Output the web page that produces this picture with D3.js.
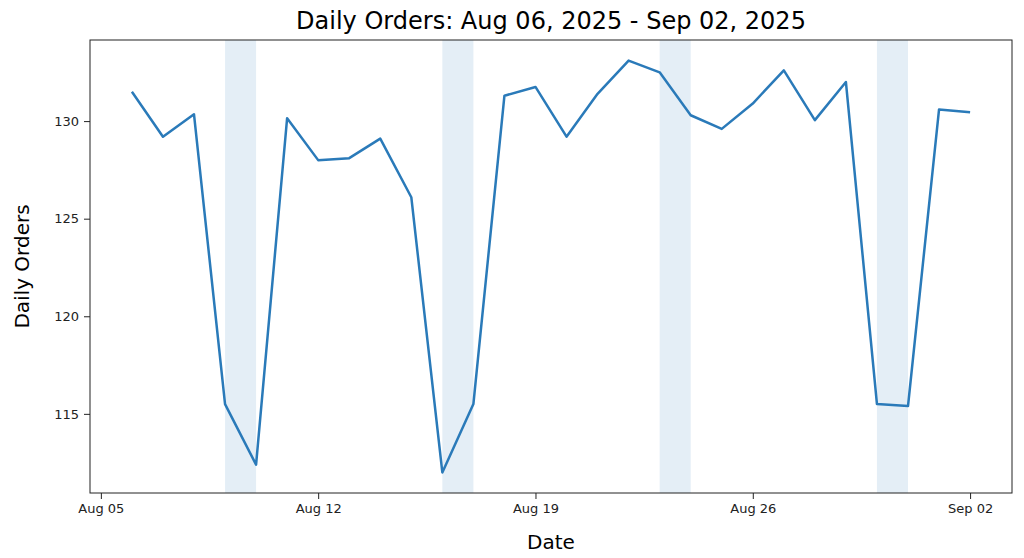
<!DOCTYPE html>
<html><head><meta charset="utf-8">
<script src="https://cdn.jsdelivr.net/npm/d3@7"></script>
<style>body{margin:0;background:#fff;font-family:"DejaVu Sans",sans-serif}</style>
</head><body><svg id="chart" width="1024" height="558"></svg>
<script>
// daily orders, Aug 06 .. Sep 02 2025
var orders = [131.5,129.2,130.35,115.5,112.4,130.15,128.0,128.1,129.1,126.1,112.0,115.5,131.3,131.75,
              129.2,131.4,133.1,132.5,130.3,129.6,130.9,132.6,130.05,132.0,115.5,115.4,130.6,130.45];
var startDate = "2025-08-06";
var weekendStarts = ["2025-08-09","2025-08-16","2025-08-23","2025-08-30"];
var tickDates = ["2025-08-05","2025-08-12","2025-08-19","2025-08-26","2025-09-02"];
var yTicks = [115,120,125,130];

var parse = d3.utcParse("%Y-%m-%d");
var day = 864e5;
var t0 = parse(startDate);
var data = orders.map(function (v, i) { return {date: new Date(+t0 + i*day), value: v}; });

var svg = d3.select("#chart");
var m = {left: 90, right: 1012, top: 40, bottom: 493};

var span = (data.length - 1) * day;
var x = d3.scaleUtc()
    .domain([new Date(+t0 - span*0.05), new Date(+t0 + span*1.05)])
    .range([m.left, m.right]);
var ext = d3.extent(orders);
var pad = (ext[1] - ext[0]) * 0.05;
var y = d3.scaleLinear().domain([ext[0]-pad, ext[1]+pad]).range([m.bottom, m.top]);

// weekend bands
svg.selectAll("rect.wk").data(weekendStarts).enter().append("rect")
    .attr("x", function (d) { return x(parse(d)); })
    .attr("width", function (d) { return x(new Date(+parse(d) + day)) - x(parse(d)); })
    .attr("y", m.top).attr("height", m.bottom - m.top)
    .attr("fill", "#1f77b4").attr("fill-opacity", 0.12);

svg.append("path").datum(data)
    .attr("fill", "none").attr("stroke", "#2a7ab9").attr("stroke-width", 2.5)
    .attr("stroke-linejoin", "round")
    .attr("d", d3.line().x(function (d) { return x(d.date); }).y(function (d) { return y(d.value); }));

var xAxis = svg.append("g").attr("transform", "translate(0," + m.bottom + ")")
    .call(d3.axisBottom(x).tickValues(tickDates.map(parse)).tickFormat(d3.utcFormat("%b %d")).tickSizeOuter(0).tickPadding(5));
var yAxis = svg.append("g").attr("transform", "translate(" + m.left + ",0)")
    .call(d3.axisLeft(y).tickValues(yTicks).tickSizeOuter(0).tickPadding(5));
[xAxis, yAxis].forEach(function (g) {
    g.select(".domain").remove();
    g.selectAll("text").attr("font-size", 13).attr("fill", "#222").style("font-family", "DejaVu Sans");
    g.selectAll("line").attr("stroke", "#222");
});

svg.append("rect").attr("x", m.left).attr("y", m.top)
    .attr("width", m.right - m.left).attr("height", m.bottom - m.top)
    .attr("fill", "none").attr("stroke", "#222").attr("stroke-width", 1);

svg.append("text").attr("x", (m.left + m.right)/2).attr("y", 29).attr("text-anchor", "middle")
    .attr("font-size", 24).text("Daily Orders: Aug 06, 2025 - Sep 02, 2025");
svg.append("text").attr("x", (m.left + m.right)/2).attr("y", 549).attr("text-anchor", "middle")
    .attr("font-size", 20).text("Date");
svg.append("text").attr("transform", "translate(29," + (m.top + m.bottom)/2 + ") rotate(-90)")
    .attr("text-anchor", "middle").attr("font-size", 20).text("Daily Orders");
</script></body></html>
